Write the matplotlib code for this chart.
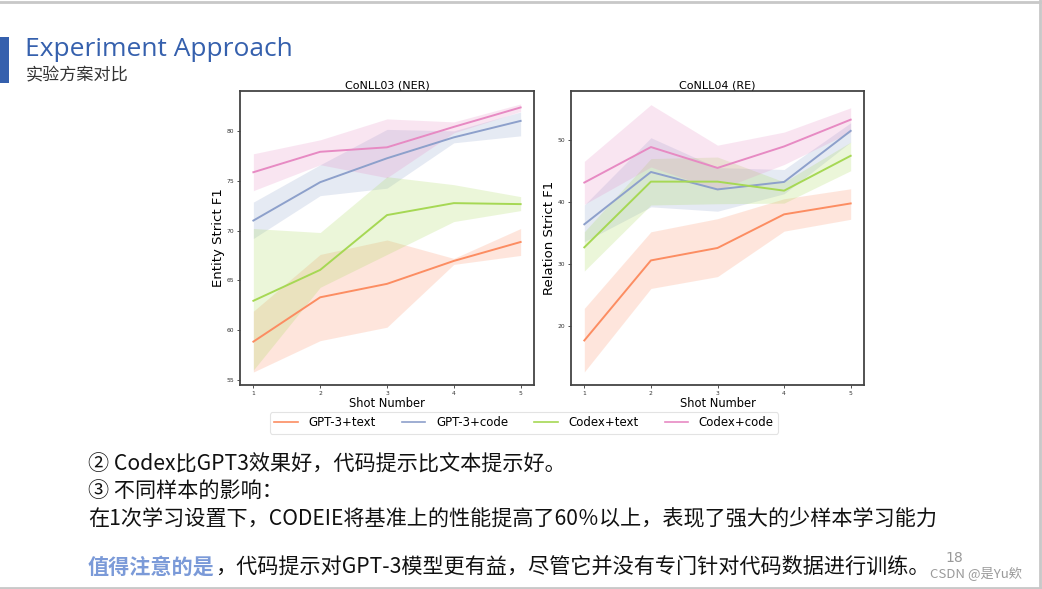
import numpy as np
import matplotlib
matplotlib.use("Agg")
import matplotlib.pyplot as plt
from matplotlib.lines import Line2D

plt.rcParams['font.family'] = ['DejaVu Sans', 'Noto Sans CJK SC']

# ---- data ----
shots = [1, 2, 3, 4, 5]
series = ['GPT-3+text', 'GPT-3+code', 'Codex+text', 'Codex+code']
colors = ['#fc8d62', '#8da0cb', '#a6d854', '#e78ac3']

# CoNLL03 (NER)
ner_gpt3_text = [58.85, 63.3, 64.65, 66.95, 68.85]
ner_gpt3_text_hi = [61.9, 67.6, 69.05, 67.2, 70.2]
ner_gpt3_text_lo = [55.8, 58.95, 60.3, 66.6, 67.5]
ner_gpt3_code = [71.0, 74.85, 77.25, 79.35, 81.0]
ner_gpt3_code_hi = [72.85, 76.6, 80.15, 80.0, 81.9]
ner_gpt3_code_lo = [69.2, 73.5, 74.25, 78.8, 79.5]
ner_codex_text = [62.95, 66.05, 71.55, 72.75, 72.65]
ner_codex_text_hi = [70.2, 69.8, 75.4, 74.6, 73.4]
ner_codex_text_lo = [56.0, 64.3, 67.6, 70.9, 72.0]
ner_codex_code = [75.85, 77.9, 78.35, 80.4, 82.35]
ner_codex_code_hi = [77.7, 79.1, 81.2, 80.9, 82.7]
ner_codex_code_lo = [74.0, 76.6, 75.3, 79.8, 81.95]

# CoNLL04 (RE)
re_gpt3_text = [17.75, 30.6, 32.6, 38.0, 39.75]
re_gpt3_text_hi = [22.9, 35.2, 37.3, 40.5, 42.1]
re_gpt3_text_lo = [12.7, 26.1, 28.0, 35.3, 37.2]
re_gpt3_code = [36.4, 44.8, 42.0, 43.2, 51.4]
re_gpt3_code_hi = [39.5, 50.3, 45.5, 45.2, 52.7]
re_gpt3_code_lo = [33.6, 39.2, 38.5, 41.3, 49.6]
re_codex_text = [32.7, 43.25, 43.25, 41.8, 47.4]
re_codex_text_hi = [35.2, 46.95, 47.2, 43.2, 49.6]
re_codex_text_lo = [28.9, 39.5, 39.7, 39.8, 45.0]
re_codex_code = [43.1, 48.8, 45.45, 48.9, 53.2]
re_codex_code_hi = [46.5, 55.6, 49.1, 51.2, 55.1]
re_codex_code_lo = [39.6, 45.6, 41.9, 46.0, 51.2]

ner_mean = [ner_gpt3_text, ner_gpt3_code, ner_codex_text, ner_codex_code]
ner_hi = [ner_gpt3_text_hi, ner_gpt3_code_hi, ner_codex_text_hi, ner_codex_code_hi]
ner_lo = [ner_gpt3_text_lo, ner_gpt3_code_lo, ner_codex_text_lo, ner_codex_code_lo]
re_mean = [re_gpt3_text, re_gpt3_code, re_codex_text, re_codex_code]
re_hi = [re_gpt3_text_hi, re_gpt3_code_hi, re_codex_text_hi, re_codex_code_hi]
re_lo = [re_gpt3_text_lo, re_gpt3_code_lo, re_codex_text_lo, re_codex_code_lo]

ner_ticks = [55, 60, 65, 70, 75, 80]
re_ticks = [20, 30, 40, 50]

fig = plt.figure(figsize=(10.42, 5.89), dpi=100)
W, H = 1042.0, 589.0


def px_axes(x0, y0, x1, y1):
	return fig.add_axes([x0 / W, 1 - y1 / H, (x1 - x0) / W, (y1 - y0) / H])


def draw_panel(ax, means, his, los, title, ylabel, ylim, yticks):
	for m, hi, lo, c in zip(means, his, los, colors):
		ax.fill_between(shots, lo, hi, color=c, alpha=0.22, linewidth=0)
		ax.plot(shots, m, color=c, linewidth=1.4)
	ax.set_xlim(0.8, 5.2)
	ax.set_ylim(*ylim)
	ax.set_xticks(shots)
	ax.set_yticks(yticks)
	ax.tick_params(labelsize=4.3, length=2.5, width=0.6, pad=1.5, colors='#333333')
	ax.set_title(title, fontsize=8, pad=2)
	ax.set_ylabel(ylabel, fontsize=9.5, labelpad=1)
	ax.set_xlabel('Shot Number', fontsize=8.3, labelpad=1)
	for s in ax.spines.values():
		s.set_color('#444444')
		s.set_linewidth(1.3)


ax1 = px_axes(240, 91, 534, 385)
draw_panel(ax1, ner_mean, ner_hi, ner_lo, 'CoNLL03 (NER)', 'Entity Strict F1', (54.5, 84.0), ner_ticks)
ax2 = px_axes(571, 91, 864, 385)
draw_panel(ax2, re_mean, re_hi, re_lo, 'CoNLL04 (RE)', 'Relation Strict F1', (10.6, 57.8), re_ticks)

handles = [Line2D([0], [0], color=c, linewidth=1.2) for c in colors]
leg = fig.legend(handles, series, ncol=4, loc='center', bbox_to_anchor=(524 / W, 1 - 423 / H),
				 fontsize=8.5, frameon=True, handlelength=2.0, columnspacing=2.2, borderpad=0.35,
				 handletextpad=0.9, borderaxespad=0)
leg.get_frame().set_edgecolor('#dddddd')
leg.get_frame().set_linewidth(0.8)

# ---- slide decoration ----
fig.add_artist(plt.Rectangle((0, 1 - 83 / H), 9 / W, 46 / H, transform=fig.transFigure, color='#3560ad', lw=0))
fig.add_artist(Line2D([0, 1040 / W], [1 - 1.5 / H] * 2, transform=fig.transFigure, color='#c8c8c8', lw=2))
fig.add_artist(Line2D([0, 1040 / W], [1 - 587.5 / H] * 2, transform=fig.transFigure, color='#c8c8c8', lw=2))
fig.add_artist(Line2D([1039.5 / W] * 2, [0, 1], transform=fig.transFigure, color='#c8c8c8', lw=2))
fig.add_artist(plt.Rectangle((1040.5 / W, 0), 2 / W, 1, transform=fig.transFigure, color='#e8e8e8', lw=0))

fig.text(25 / W, 1 - 50 / H, 'Experiment Approach', fontsize=19, color='#3560ad',
		 family=['Open Sans', 'DejaVu Sans'], va='center', ha='left')
fig.text(26 / W, 1 - 75 / H, '实验方案对比', fontsize=12.3, color='#333333',
		 family=['Noto Sans CJK SC'], va='center', ha='left')

cjk = ['Noto Sans CJK SC', 'DejaVu Sans']
body = 15.2
fig.text(88 / W, 1 - 465 / H, '② Codex比GPT3效果好，代码提示比文本提示好。', fontsize=body,
		 family=cjk, va='center', ha='left', color='#111111')
fig.text(88 / W, 1 - 492 / H, '③ 不同样本的影响：', fontsize=body,
		 family=cjk, va='center', ha='left', color='#111111')
fig.text(88 / W, 1 - 518 / H, '在1次学习设置下，CODEIE将基准上的性能提高了60％以上，表现了强大的少样本学习能力',
		 fontsize=body, family=cjk, va='center', ha='left', color='#111111')
t1 = fig.text(88 / W, 1 - 567 / H, '值得注意的是', fontsize=body, family=cjk, va='center', ha='left',
			  color='#7b9ad8', fontweight='bold')
fig.add_artist(matplotlib.text.Annotation(
	'，代码提示对GPT-3模型更有益，尽管它并没有专门针对代码数据进行训练。', xy=(1, 0.5), xycoords=t1,
	va='center', ha='left', fontsize=body, family=cjk, color='#111111', annotation_clip=False))

fig.text(945 / W, 1 - 558 / H, '18', fontsize=10, color='#999999', va='center', ha='left')
fig.text(930 / W, 1 - 573 / H, 'CSDN @是Yu欸', fontsize=9.5, color='#9a9a9a', family=cjk,
		 va='center', ha='left')

fig.savefig('out.png', dpi=100)
